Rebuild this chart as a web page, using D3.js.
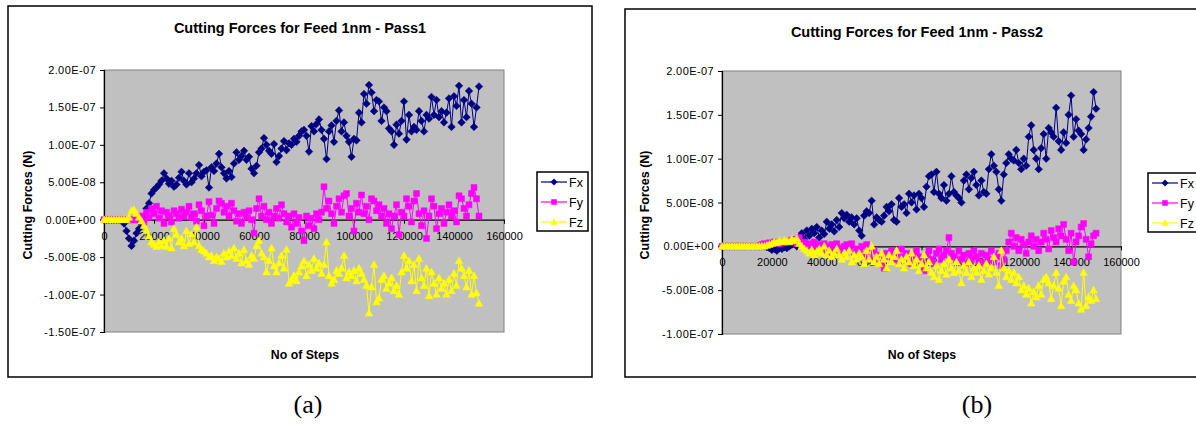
<!DOCTYPE html>
<html><head><meta charset="utf-8">
<script src="https://cdn.jsdelivr.net/npm/d3@7"></script>
<style>html,body{margin:0;padding:0;background:#fff;}svg{display:block;}</style>
</head><body>
<svg id="c" width="1196" height="424"></svg>
<script>
// values in units of 1e-9 N (nN); steps every 1000
const UNIT = 1e-9;
const STEP = 1000;
const seriesNames = ["Fx", "Fy", "Fz"];
const seriesColors = ["#000080", "#FF00FF", "#FFFF00"];
const xTickValues = [0, 20000, 40000, 60000, 80000, 100000, 120000, 140000, 160000];
const yTicksA = [-1.5e-7, -1e-7, -5e-8, 0, 5e-8, 1e-7, 1.5e-7, 2e-7];
const yTicksB = [-1e-7, -5e-8, 0, 5e-8, 1e-7, 1.5e-7, 2e-7];

const fxA = [0,0,0,0,0,0,0,0,-5,-15,-25,-35,-28,-18,-12,-5,5,15,22,35,
40,43,47,52,62,55,48,52,44,47,56,64,52,47,62,50,55,62,73,58,
64,66,43,70,65,75,88,70,62,55,65,57,75,90,80,85,92,80,84,68,
62,72,90,95,109,100,92,88,101,77,85,95,105,93,102,100,108,104,112,118,
120,112,91,125,118,128,134,120,108,81,118,126,104,132,146,118,130,112,104,84,
108,106,143,130,168,155,180,170,145,160,158,132,150,145,122,118,100,127,115,132,
158,107,140,118,124,120,145,132,118,140,135,164,140,160,137,145,130,143,162,124,
165,152,179,130,160,137,172,155,124,150,178];
const fyA = [0,0,0,0,0,0,0,0,0,0,0,0,0,0,0,5,-3,10,3,15,
8,18,2,12,-5,10,5,-3,12,8,2,14,5,10,18,3,8,-2,20,12,
-8,5,24,6,-5,15,25,22,10,18,5,22,12,-2,8,-5,10,3,12,0,
-18,15,28,5,18,0,10,-5,5,15,2,20,8,-3,5,-10,8,-5,3,-15,
-28,5,-8,2,-12,8,0,10,44,15,25,8,-5,18,28,10,32,35,5,15,
-15,22,10,33,8,18,0,28,25,12,20,5,15,-5,8,-12,5,20,-20,10,
5,28,18,-3,25,35,8,-8,12,-25,5,28,18,-12,8,15,-5,10,20,5,
12,-3,32,28,15,5,20,35,43,28,5];
const fzA = [0,0,0,0,0,0,0,0,0,0,3,12,13,8,3,-2,-8,-15,-22,-30,
-33,-36,-30,-35,-28,-36,-25,-38,-12,-20,-30,-25,-35,-15,-32,-20,-30,-10,-35,-40,
-42,-45,-50,-48,-55,-50,-52,-56,-45,-50,-42,-48,-38,-52,-45,-58,-40,-55,-60,-48,
-52,-35,-28,-45,-50,-70,-55,-38,-62,-70,-58,-48,-65,-40,-85,-80,-75,-82,-70,-62,
-55,-75,-60,-68,-52,-65,-58,-72,-60,-30,-75,-85,-80,-68,-72,-65,-48,-78,-70,-75,
-68,-82,-65,-72,-80,-88,-125,-90,-60,-110,-105,-80,-75,-92,-85,-78,-95,-88,-100,-70,
-48,-65,-55,-82,-60,-95,-52,-78,-88,-65,-102,-70,-85,-100,-78,-92,-85,-100,-80,-95,
-72,-88,-55,-65,-75,-90,-68,-100,-75,-98,-112];

const fxB = [0,0,0,0,0,0,0,0,0,0,0,0,0,0,0,0,0,0,-1,-2,
-4,-3,-5,-2,-3,-1,-2,0,2,3,0,10,15,8,18,12,20,15,22,10,
18,14,28,20,25,17,30,22,38,32,36,28,33,25,32,18,12,35,40,38,
52,25,33,30,28,35,45,40,48,30,28,55,45,48,38,60,50,58,42,60,
55,45,68,80,82,62,85,60,55,70,52,60,80,62,58,55,50,75,82,65,
78,85,70,58,75,62,60,88,105,92,85,65,52,82,95,105,100,98,110,95,
88,100,92,125,138,110,100,88,112,128,100,135,130,125,158,120,110,130,118,150,
172,125,145,132,128,110,122,135,148,176,157];
const fyB = [0,0,0,0,0,0,0,0,0,0,0,0,0,0,0,1,2,3,2,4,
3,5,4,3,5,4,6,5,7,8,3,10,2,5,-2,3,0,5,-3,2,
-5,3,0,-8,2,-5,3,-2,-8,0,2,-5,3,-10,-3,-6,0,-12,2,-8,
-15,-5,-18,-10,-20,-25,-8,-12,-5,-15,-10,-18,-3,-12,-8,-15,-20,-10,-5,-12,
-18,-28,-10,-5,-15,-20,-8,-3,-15,-10,-5,10,-8,-12,-18,-5,-15,-10,-20,-8,
-15,-5,-12,-18,-8,-20,-10,-15,-5,-18,-12,-8,-22,-15,-5,5,15,0,10,-5,
8,2,-8,5,12,0,8,-5,5,15,8,-3,18,10,5,20,12,25,8,-5,
15,-18,5,12,22,26,8,-12,3,12,15];
const fzB = [0,0,0,0,0,0,0,0,0,0,0,0,0,0,0,0,0,0,1,2,
3,5,4,6,5,7,6,5,8,6,9,3,0,-3,-5,-8,-4,-10,-6,-3,
-8,0,-10,-5,-12,-8,-3,-10,-15,-8,-12,-5,-18,-10,-15,-8,-12,-20,-5,-15,
0,-18,-12,-20,-8,-15,-25,-10,-18,-12,-5,-20,-15,-25,-12,-18,-8,-22,-15,-28,
-20,-10,-25,-18,-30,-35,-22,-38,-28,-20,-32,-15,-25,-30,-18,-28,-42,-22,-30,-18,
-35,-25,-30,-22,-38,-28,-20,-32,-25,-12,-30,-45,-5,-25,-35,-28,-38,-30,-42,-35,
-50,-45,-55,-48,-65,-52,-58,-45,-55,-38,-35,-42,-60,-45,-30,-48,-68,-40,-35,-55,
-62,-45,-50,-65,-72,-30,-68,-58,-62,-50,-60];

function fmtE(v){
  if (Math.abs(v) < 1e-20) return "0.00E+00";
  const s = v.toExponential(2);
  const m = s.split("e");
  let exp = parseInt(m[1], 10);
  const sign = exp < 0 ? "-" : "+";
  exp = Math.abs(exp);
  return m[0] + "E" + sign + (exp < 10 ? "0" + exp : "" + exp);
}

const svg = d3.select("#c");
const SANS = "'Liberation Sans', Arial, sans-serif";

function markerPath(kind, k){
  k = k || 1;
  if (kind === 0) return `M0,${-3.8*k}L${3.8*k},0L0,${3.8*k}L${-3.8*k},0Z`;
  if (kind === 1) return `M${-3*k},${-3*k}H${3*k}V${3*k}H${-3*k}Z`;
  return `M0,${-4*k}L${3.8*k},${2.8*k}H${-3.8*k}Z`;
}

function drawChart(cfg){
  const g = svg.append("g");
  g.append("rect").attr("x", cfg.frame[0]).attr("y", cfg.frame[1])
    .attr("width", cfg.frame[2]).attr("height", cfg.frame[3])
    .attr("fill", "#fff").attr("stroke", "#000").attr("stroke-width", 1.5);

  const x = d3.scaleLinear().domain([0, 160000]).range([cfg.px0, cfg.px1]);
  const y = d3.scaleLinear().domain(cfg.yDomain).range([cfg.py1, cfg.py0]);

  g.append("rect").attr("x", cfg.px0).attr("y", cfg.py0)
    .attr("width", cfg.px1 - cfg.px0).attr("height", cfg.py1 - cfg.py0)
    .attr("fill", "#C0C0C0").attr("stroke", "#808080").attr("stroke-width", 1);

  const yAxis = d3.axisLeft(y).tickValues(cfg.yTicks).tickFormat(fmtE).tickSize(4).tickPadding(4);
  const ya = g.append("g").attr("transform", `translate(${cfg.px0},0)`).call(yAxis);
  ya.select(".domain").attr("stroke", "#000").attr("stroke-width", 1.2);
  ya.selectAll(".tick line").attr("stroke", "#000");
  ya.selectAll("text").attr("font-family", SANS).attr("font-size", 11)
    .attr("letter-spacing", 0.4).attr("fill", "#000");

  const xAxis = d3.axisBottom(x).tickValues(xTickValues).tickFormat(d3.format("d")).tickSize(4).tickPadding(8).tickSizeOuter(0);
  const xa = g.append("g").attr("transform", `translate(0,${y(0)})`).call(xAxis);
  xa.select(".domain").attr("stroke", "#000").attr("stroke-width", 1.2);
  xa.selectAll(".tick line").attr("stroke", "#000");
  xa.selectAll("text").attr("font-family", SANS).attr("font-size", 11).attr("fill", "#000");

  cfg.series.forEach((vals, si) => {
    const pts = vals.map((v, i) => [i * STEP, v * UNIT]);
    const line = d3.line().x(d => x(d[0])).y(d => y(d[1]));
    const color = seriesColors[si];
    g.append("path").attr("d", line(pts)).attr("fill", "none")
      .attr("stroke", color).attr("stroke-width", 1);
    g.append("g").selectAll("path").data(pts).join("path")
      .attr("transform", d => `translate(${x(d[0])},${y(d[1])})`)
      .attr("d", markerPath(si))
      .attr("fill", color).attr("stroke", color).attr("stroke-width", 0.5);
  });

  g.append("text").attr("x", cfg.titleX).attr("y", cfg.titleY).attr("text-anchor", "middle")
    .attr("font-family", SANS).attr("font-weight", "bold").attr("font-size", 14.5).text(cfg.title);
  g.append("text").attr("x", cfg.xTitleX).attr("y", 359).attr("text-anchor", "middle")
    .attr("font-family", SANS).attr("font-weight", "bold").attr("font-size", 12.3).text("No of Steps");
  g.append("text").attr("transform", `translate(${cfg.yTitleX},205) rotate(-90)`)
    .attr("text-anchor", "middle").attr("dominant-baseline", "middle")
    .attr("font-family", SANS).attr("font-weight", "bold").attr("font-size", 12.5).text("Cutting Forces (N)");

  const lg = g.append("g").attr("transform", `translate(${cfg.legX},${cfg.legY})`);
  lg.append("rect").attr("width", cfg.legW).attr("height", 59)
    .attr("fill", "#fff").attr("stroke", "#000").attr("stroke-width", 1.5);
  seriesNames.forEach((nm, si) => {
    const yy = 10 + si * 20;
    lg.append("line").attr("x1", 4).attr("x2", 30).attr("y1", yy).attr("y2", yy)
      .attr("stroke", seriesColors[si]).attr("stroke-width", 1.2);
    lg.append("path").attr("transform", `translate(17,${yy})`).attr("d", markerPath(si, 0.85))
      .attr("fill", seriesColors[si]).attr("stroke", seriesColors[si]).attr("stroke-width", 0.5);
    lg.append("text").attr("x", 32).attr("y", yy + 4.5).attr("font-family", SANS)
      .attr("font-size", 12.5).text(nm);
  });

  svg.append("text").attr("x", cfg.capX).attr("y", 413).attr("text-anchor", "middle")
    .attr("font-family", "'Liberation Serif', 'Times New Roman', serif").attr("font-size", 26)
    .text(cfg.caption);
}

drawChart({
  frame: [8, 6, 584, 371],
  px0: 104, px1: 504, py0: 70, py1: 332, yDomain: [-1.5e-7, 2e-7], yTicks: yTicksA,
  series: [fxA, fyA, fzA],
  title: "Cutting Forces for Feed 1nm - Pass1", titleX: 300, titleY: 33,
  xTitleX: 305, yTitleX: 29,
  legX: 537, legY: 172, legW: 51,
  caption: "(a)", capX: 308
});
drawChart({
  frame: [625, 9, 600, 368],
  px0: 722, px1: 1121, py0: 71, py1: 334, yDomain: [-1e-7, 2e-7], yTicks: yTicksB,
  series: [fxB, fyB, fzB],
  title: "Cutting Forces for Feed 1nm - Pass2", titleX: 917, titleY: 37,
  xTitleX: 922, yTitleX: 646,
  legX: 1148, legY: 173, legW: 60,
  caption: "(b)", capX: 977
});
</script>
</body></html>
